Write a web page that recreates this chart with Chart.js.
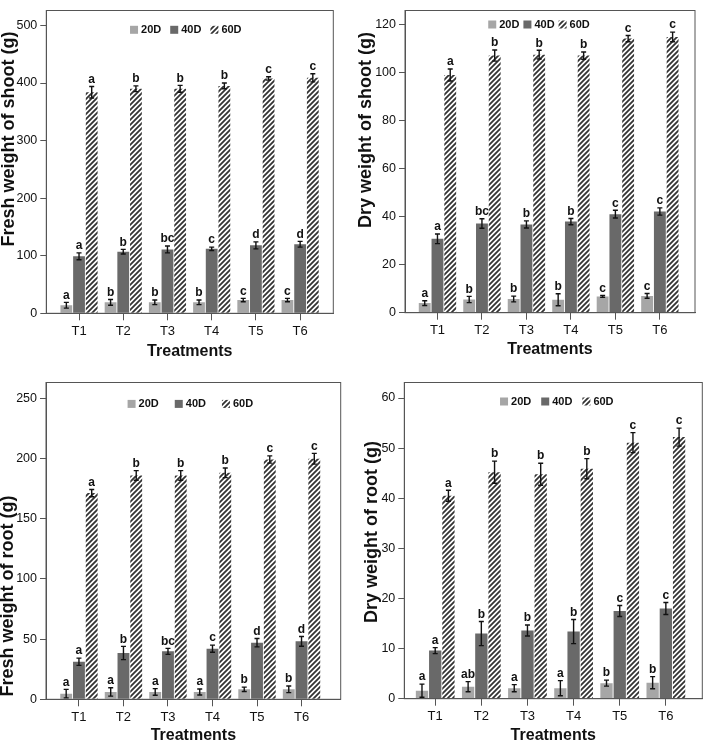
<!DOCTYPE html>
<html>
<head>
<meta charset="utf-8">
<script src="https://cdn.jsdelivr.net/npm/chart.js@4.4.1/dist/chart.umd.min.js"></script>
<style>
  body { margin: 0; background: #fff; width: 708px; height: 744px; position: relative; overflow: hidden; }
  canvas { position: absolute; }
</style>
</head>
<body>
<canvas id="c1" width="354" height="372" style="left:0;top:0"></canvas>
<canvas id="c2" width="354" height="372" style="left:354px;top:0"></canvas>
<canvas id="c3" width="354" height="372" style="left:0;top:372px"></canvas>
<canvas id="c4" width="354" height="372" style="left:354px;top:372px"></canvas>
<script>
const treatments = ['T1', 'T2', 'T3', 'T4', 'T5', 'T6']
const stages = ['20D', '40D', '60D']

// fresh weight of shoot (g): rows = 20D, 40D, 60D
const shootFresh = [[14, 19, 19, 19, 23, 23], [99, 107, 111, 112, 118, 120], [384, 390, 390, 395, 408, 409]]
const shootFreshErr = [[5, 5, 4, 4, 3, 3], [6, 4, 6, 3, 6, 5], [10, 5, 6, 5, 3, 7]]
const shootFreshLetters = [['a', 'b', 'b', 'b', 'c', 'c'], ['a', 'b', 'bc', 'c', 'd', 'd'], ['a', 'b', 'b', 'b', 'c', 'c']]

// dry weight of shoot (g)
const shootDry = [[4.0, 5.5, 5.7, 5.4, 6.8, 7.0], [30.8, 37.2, 36.8, 38.0, 41.1, 42.2], [99.1, 107.2, 107.6, 107.2, 114.3, 115.0]]
const shootDryErr = [[1.0, 1.3, 1.2, 2.5, 0.4, 1.0], [2.0, 2.0, 1.5, 1.3, 1.6, 1.5], [2.5, 2.3, 1.8, 1.5, 1.3, 2.0]]
const shootDryLetters = [['a', 'b', 'b', 'b', 'c', 'c'], ['a', 'bc', 'b', 'b', 'c', 'c'], ['a', 'b', 'b', 'b', 'c', 'c']]

// fresh weight of root (g)
const rootFresh = [[4.7, 6.1, 6.1, 6.1, 8.3, 8.3], [31.2, 38.4, 39.8, 42.0, 47.0, 48.1], [171.2, 185.8, 185.8, 188.0, 199.1, 199.7]]
const rootFreshErr = [[3.5, 3.5, 2.8, 2.5, 1.8, 2.8], [3.0, 5.5, 2.5, 3.0, 3.5, 4.0], [3.0, 4.0, 4.0, 4.0, 3.0, 4.5]]
const rootFreshLetters = [['a', 'a', 'a', 'a', 'b', 'b'], ['a', 'b', 'bc', 'c', 'd', 'd'], ['a', 'b', 'b', 'b', 'c', 'c']]

// dry weight of root (g)
const rootDry = [[1.6, 2.4, 2.1, 2.1, 3.1, 3.2], [9.6, 13.0, 13.6, 13.4, 17.5, 18.0], [40.5, 45.2, 44.8, 45.9, 51.1, 52.2]]
const rootDryErr = [[1.3, 1.0, 0.7, 1.5, 0.6, 1.2], [0.6, 2.4, 1.1, 2.4, 1.1, 1.2], [1.1, 2.2, 2.2, 2.0, 2.0, 1.8]]
const rootDryLetters = [['a', 'ab', 'a', 'a', 'b', 'b'], ['a', 'b', 'b', 'b', 'c', 'c'], ['a', 'b', 'b', 'b', 'c', 'c']]

Chart.defaults.font.family = '"Liberation Sans", Arial, sans-serif'
Chart.defaults.color = '#111'

const W = 354, H = 372
const axisGray = '#555'

function hatch() {
    const c = document.createElement('canvas')
    c.width = 5; c.height = 5
    const g = c.getContext('2d')
    g.fillStyle = '#fff'
    g.fillRect(0, 0, 5, 5)
    g.strokeStyle = '#333'
    g.lineWidth = 1.8
    g.beginPath()
    g.moveTo(-1, 6); g.lineTo(6, -1)
    g.moveTo(-1, 1); g.lineTo(1, -1)
    g.moveTo(4, 6); g.lineTo(6, 4)
    g.stroke()
    return g.createPattern(c, 'repeat')
}
const fills = ['#a6a6a6', '#696969', hatch()]

// frame round the plot area + rotated y title
const framePlugin = {
    id: 'frame',
    afterDraw(chart, args, opts) {
        const {ctx, chartArea: a} = chart
        ctx.save()
        ctx.strokeStyle = axisGray
        ctx.lineWidth = 1
        ctx.strokeRect(a.left, a.top, a.right - a.left, a.bottom - a.top)
        ctx.translate(opts.titleX, opts.titleY)
        ctx.rotate(-Math.PI / 2)
        ctx.font = 'bold 18px "Liberation Sans", Arial, sans-serif'
        ctx.fillStyle = '#111'
        ctx.textAlign = 'center'
        ctx.textBaseline = 'middle'
        ctx.fillText(opts.title, 0, 0)
        ctx.restore()
    }
}

// error bars + significance letters
const errorPlugin = {
    id: 'errs',
    afterDatasetsDraw(chart) {
        const {ctx} = chart
        const y = chart.scales.y
        ctx.save()
        chart.data.datasets.forEach((ds, i) => {
            chart.getDatasetMeta(i).data.forEach((bar, j) => {
                const v = ds.data[j].y, e = ds.errors[j]
                const top = y.getPixelForValue(v + e)
                const bot = y.getPixelForValue(Math.max(v - e, 0))
                ctx.strokeStyle = '#111'
                ctx.lineWidth = 1.4
                ctx.beginPath()
                ctx.moveTo(bar.x, top); ctx.lineTo(bar.x, bot)
                ctx.moveTo(bar.x - 2.5, top); ctx.lineTo(bar.x + 2.5, top)
                ctx.moveTo(bar.x - 2.5, bot); ctx.lineTo(bar.x + 2.5, bot)
                ctx.stroke()
                ctx.fillStyle = '#111'
                ctx.font = 'bold 12px "Liberation Sans", Arial, sans-serif'
                ctx.textAlign = 'center'
                ctx.textBaseline = 'bottom'
                ctx.fillText(ds.letters[j], bar.x, top - 1)
            })
        })
        ctx.restore()
    }
}

// legend drawn inside the plot area at the top
const legendPlugin = {
    id: 'insideLegend',
    afterDraw(chart, args, opts) {
        const {ctx, chartArea: a} = chart
        ctx.save()
        ctx.font = 'bold 11px "Liberation Sans", Arial, sans-serif'
        const box = 8, gap = 3
        const items = chart.data.datasets.map(ds => ({text: ds.label, fill: ds.backgroundColor, w: box + gap + ctx.measureText(ds.label).width}))
        const total = items.reduce((s, it) => s + it.w, 0) + opts.spacing * (items.length - 1)
        let x = (a.left + a.right) / 2 + opts.dx - total / 2
        const cy = a.top + opts.dy
        items.forEach(it => {
            ctx.fillStyle = it.fill
            ctx.fillRect(x, cy - box / 2, box, box)
            ctx.fillStyle = '#111'
            ctx.textAlign = 'left'
            ctx.textBaseline = 'middle'
            ctx.fillText(it.text, x + box + gap, cy + 0.5)
            x += it.w + opts.spacing
        })
        ctx.restore()
    }
}

function makePanel(id, means, errs, letters, yTitle, yMax, yStep, lay) {
    return new Chart(document.getElementById(id), {
        type: 'bar',
        data: {
            datasets: stages.map((s, i) => ({
                label: s,
                data: means[i].map((v, j) => ({x: j, y: v})),
                errors: errs[i],
                letters: letters[i],
                backgroundColor: fills[i],
                borderWidth: 0,
                categoryPercentage: 0.86,
                barPercentage: 0.93
            }))
        },
        options: {
            responsive: false,
            animation: false,
            layout: {padding: {left: 0, right: W - lay.right, top: lay.top, bottom: 0}},
            plugins: {
                legend: {display: false},
                tooltip: {enabled: false},
                insideLegend: lay.legend,
                frame: {title: yTitle, titleX: lay.yTitleX, titleY: lay.yTitleY}
            },
            scales: {
                x: {
                    type: 'linear',
                    min: lay.xMin,
                    max: lay.xMax,
                    offset: false,
                    grid: {drawOnChartArea: false, offset: false, tickLength: 7, color: axisGray},
                    border: {color: axisGray},
                    ticks: {
                        stepSize: 1, includeBounds: false, autoSkip: false, maxRotation: 0, padding: 3,
                        font: {size: 13},
                        callback: v => treatments[v] ?? ''
                    },
                    title: {display: true, text: 'Treatments', font: {size: 16, weight: 'bold', lineHeight: 1}, padding: {top: 0, bottom: lay.xTitlePad}},
                    afterFit: s => { s.height = H - lay.bottom }
                },
                y: {
                    min: 0,
                    max: yMax,
                    grid: {drawOnChartArea: false, tickLength: 6, color: axisGray},
                    border: {color: axisGray},
                    ticks: {stepSize: yStep, includeBounds: false, padding: 3, font: {size: 12.5}},
                    afterFit: s => { s.width = lay.left }
                }
            }
        },
        plugins: [framePlugin, errorPlugin, legendPlugin]
    })
}

makePanel('c1', shootFresh, shootFreshErr, shootFreshLetters, 'Fresh weight of shoot (g)', 526, 100,
    {left: 46.3, right: 333.3, top: 5.7, bottom: 313.3, xMin: -0.74, xMax: 5.75, xTitlePad: 12.3, yTitleX: 9, yTitleY: 139,
     legend: {dx: -4, dy: 19.3, spacing: 9}})
makePanel('c2', shootDry, shootDryErr, shootDryLetters, 'Dry weight of shoot (g)', 126, 20,
    {left: 51, right: 341, top: 1.7, bottom: 312.7, xMin: -0.73, xMax: 5.79, xTitlePad: 14, yTitleX: 12.5, yTitleY: 130,
     legend: {dx: -11, dy: 14, spacing: 4}})
makePanel('c3', rootFresh, rootFreshErr, rootFreshLetters, 'Fresh weight of root (g)', 263, 50,
    {left: 46, right: 340.7, top: 10.3, bottom: 327.3, xMin: -0.74, xMax: 5.88, xTitlePad: 0, yTitleX: 8, yTitleY: 224,
     legend: {dx: -3, dy: 21.4, spacing: 16}})
makePanel('c4', rootDry, rootDryErr, rootDryLetters, 'Dry weight of root (g)', 63.1, 10,
    {left: 50.3, right: 348.3, top: 10.3, bottom: 326.7, xMin: -0.67, xMax: 5.79, xTitlePad: 0, yTitleX: 18.5, yTitleY: 160,
     legend: {dx: 3.5, dy: 19, spacing: 10}})
</script>
</body>
</html>
